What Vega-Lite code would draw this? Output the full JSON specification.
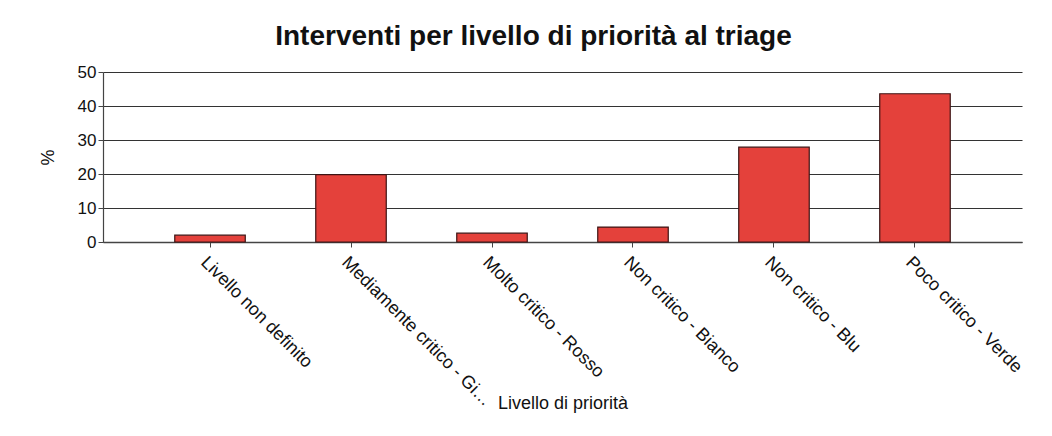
{
  "$schema": "https://vega.github.io/schema/vega-lite/v6.json",
  "autosize": {"type": "none"},
  "width": 919,
  "height": 170,
  "padding": {"left": 103, "top": 72, "right": 30, "bottom": 194},
  "background": "white",
  "title": {
    "text": "Interventi per livello di priorità al triage",
    "font": "Liberation Sans",
    "fontSize": 28,
    "fontWeight": "bold",
    "color": "#111111",
    "anchor": "middle",
    "dx": -29,
    "offset": 12
  },
  "data": {
    "values": [
      {"livello": "Livello non definito", "pct": 2.0},
      {"livello": "Mediamente critico - Giallo", "pct": 19.8},
      {"livello": "Molto critico - Rosso", "pct": 2.6},
      {"livello": "Non critico - Bianco", "pct": 4.4},
      {"livello": "Non critico - Blu", "pct": 27.9},
      {"livello": "Poco critico - Verde", "pct": 43.6}
    ]
  },
  "mark": {"type": "bar", "fill": "#E4413B", "stroke": "#3d1414", "strokeWidth": 1.2},
  "encoding": {
    "x": {
      "field": "livello",
      "type": "nominal",
      "sort": null,
      "scale": {"paddingInner": 0.5, "paddingOuter": 0.509},
      "axis": {
        "title": "Livello di priorità",
        "titleFont": "Liberation Sans",
        "titleFontSize": 18,
        "titleFontWeight": "normal",
        "titleColor": "#111111",
        "titleY": 152,
        "titleBaseline": "top",
        "labelAngle": 45,
        "labelAlign": "left",
        "labelBaseline": "top",
        "labelFont": "Liberation Sans",
        "labelFontSize": 18,
        "labelColor": "#111111",
        "labelLimit": 205,
        "labelPadding": 6,
        "domainColor": "#444444",
        "domainWidth": 1.5,
        "tickColor": "#444444",
        "tickSize": 5,
        "grid": false
      }
    },
    "y": {
      "field": "pct",
      "type": "quantitative",
      "scale": {"domain": [0, 50], "nice": false},
      "axis": {
        "title": "%",
        "titleFont": "Liberation Sans",
        "titleFontSize": 18,
        "titleFontWeight": "normal",
        "titleColor": "#111111",
        "titlePadding": 20,
        "values": [0, 10, 20, 30, 40, 50],
        "labelFont": "Liberation Sans",
        "labelFontSize": 17,
        "labelColor": "#111111",
        "labelPadding": 2,
        "domain": true,
        "domainColor": "#444444",
        "domainWidth": 1.2,
        "tickColor": "#444444",
        "tickSize": 5,
        "grid": true,
        "gridColor": "#333333",
        "gridWidth": 1.2
      }
    }
  },
  "config": {"view": {"stroke": null}}
}
